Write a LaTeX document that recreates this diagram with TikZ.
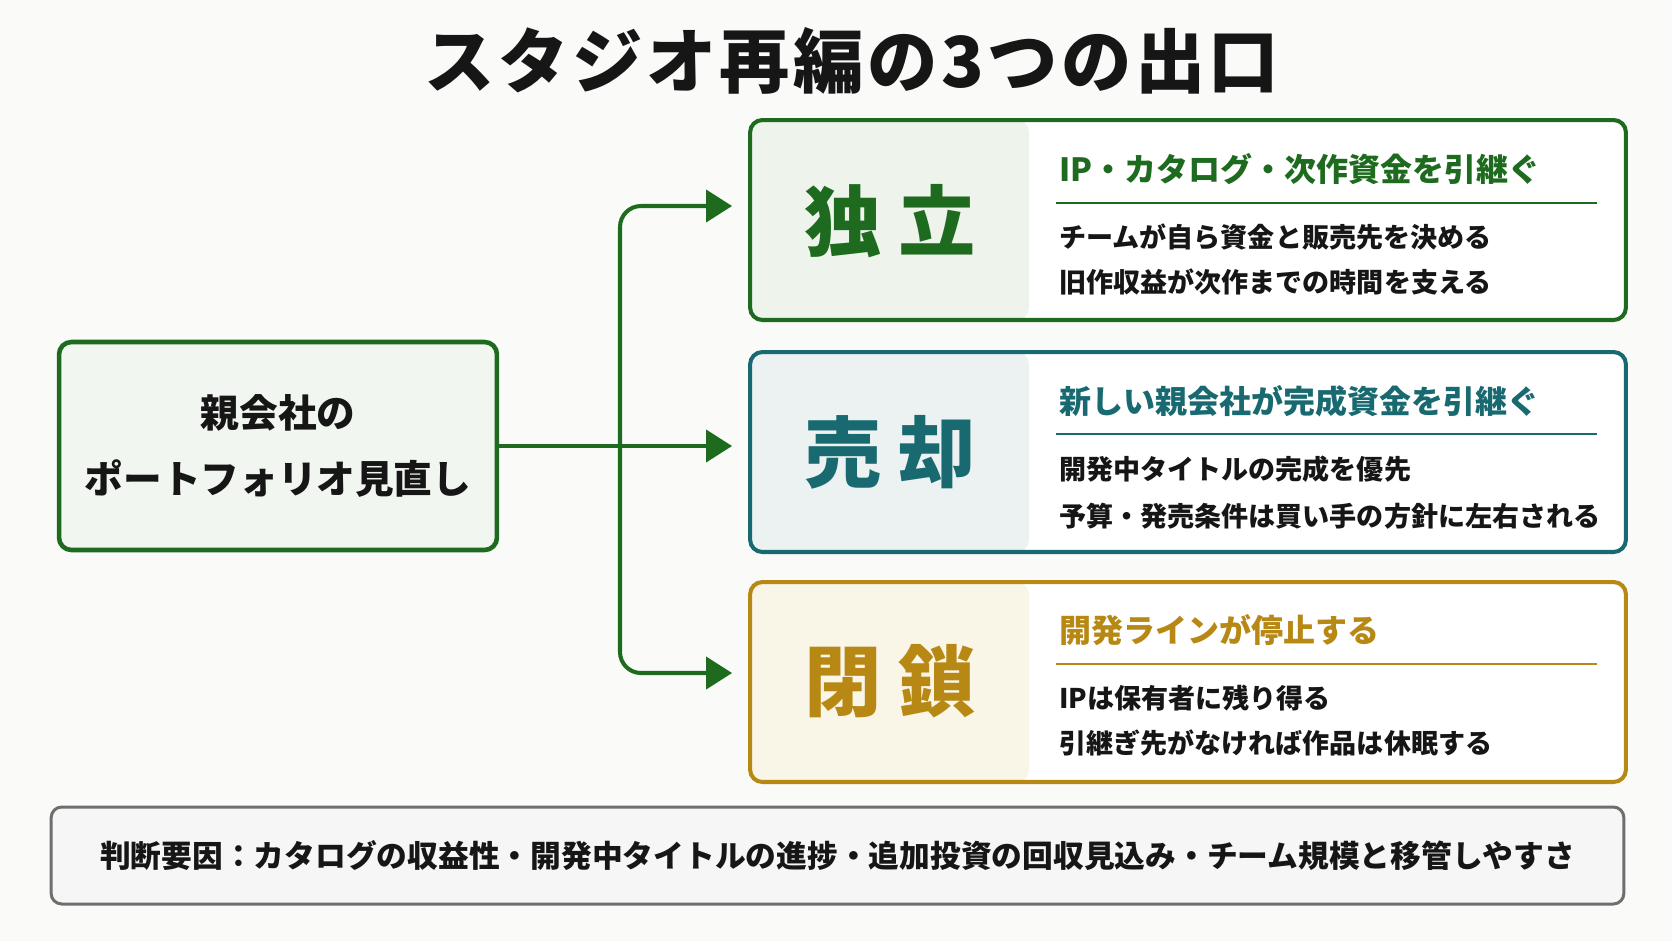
\documentclass[tikz,border=0pt]{standalone}
\usepackage{fontspec}
\setmainfont{Noto Sans CJK JP}
\usepackage{xcolor}
\usepackage{tikz}
\usetikzlibrary{arrows.meta,calc}
\definecolor{figbg}{RGB}{250,250,249}
\definecolor{figgreen}{RGB}{30,107,32}
\definecolor{figteal}{RGB}{24,106,112}
\definecolor{figgold}{RGB}{184,136,20}
\definecolor{figtext}{RGB}{22,22,22}
\definecolor{figgrey}{RGB}{110,110,110}
\definecolor{panelgreen}{RGB}{238,244,235}
\definecolor{panelteal}{RGB}{236,242,241}
\definecolor{panelgold}{RGB}{249,245,231}
\definecolor{parentfill}{RGB}{242,246,240}
\definecolor{notefill}{RGB}{246,246,246}
\tikzset{
  title/.style ={font=\fontsize{40}{40}\selectfont\bfseries\addfontfeature{LetterSpace=5}, text=figtext, inner sep=0pt},
  pbox/.style  ={draw=figgreen, line width=2.6pt, rounded corners=7pt, fill=parentfill,
                 minimum width=8.76cm, minimum height=4.16cm, align=center,
                 font=\fontsize{22}{37.6}\selectfont\bfseries, text=figtext},
  outbox/.style 2 args={draw=#1, line width=2.3pt, rounded corners=7pt, fill=white,
                 minimum width=17.52cm, minimum height=4cm, inner sep=0pt,
                 path picture={\fill[#2] (path picture bounding box.north west)
                   rectangle ([xshift=5.58cm]path picture bounding box.south west);}},
  bigl/.style  ={font=\fontsize{44}{44}\selectfont\bfseries, text=#1, inner sep=0pt},
  head/.style  ={font=\fontsize{18.2}{18.2}\selectfont\bfseries, text=#1, anchor=west, inner sep=0pt},
  body/.style  ={font=\fontsize{15.4}{15.4}\selectfont\bfseries, text=figtext, anchor=west, inner sep=0pt},
  rule/.style  ={draw=#1, line width=1.1pt},
  note/.style  ={draw=figgrey, line width=1.7pt, rounded corners=6pt, fill=notefill,
                 minimum width=31.46cm, minimum height=1.94cm,
                 font=\fontsize{17.5}{17.5}\selectfont\bfseries, text=figtext},
  arr/.style   ={draw=figgreen, line width=2.3pt, rounded corners=0.42cm,
                 -{Triangle[length=0.52cm,width=0.64cm]}, shorten >=0.32cm},
}

\begin{document}
\begin{tikzpicture}[x=0.02cm,y=-0.02cm]
  \fill[figbg] (0,0) rectangle (1672,941);
  \node[title] (title) at (852,61) {スタジオ再編の3つの出口};
  % parent company
  \node[pbox] (parent) at (278,446) {親会社の\\ポートフォリオ見直し};
  % three outcomes
  \node[outbox={figgreen}{panelgreen}] (indep) at (1188,220) {};
  \node[outbox={figteal}{panelteal}] (sale) at (1188,452) {};
  \node[outbox={figgold}{panelgold}] (close) at (1188,682) {};
  \node[bigl=figgreen] (indeplab) at (890,221) {独\kern0.22em 立};
  \node[bigl=figteal] (salelab) at (890,452) {売\kern0.22em 却};
  \node[bigl=figgold] (closelab) at (890,681) {閉\kern0.22em 鎖};
  \node[head=figgreen] (indephead) at (1059,169) {IP・カタログ・次作資金を引継ぐ};
  \draw[rule=figgreen] (1056,203) -- (1597,203);
  \node[body] (indepa) at (1059,237) {チームが自ら資金と販売先を決める};
  \node[body] (indepb) at (1059,282) {旧作収益が次作までの時間を支える};
  \node[head=figteal] (salehead) at (1059,401) {新しい親会社が完成資金を引継ぐ};
  \draw[rule=figteal] (1056,434) -- (1597,434);
  \node[body] (salea) at (1059,469) {開発中タイトルの完成を優先};
  \node[body] (saleb) at (1059,516) {予算・発売条件は買い手の方針に左右される};
  \node[head=figgold] (closehead) at (1059,630) {開発ラインが停止する};
  \draw[rule=figgold] (1056,664) -- (1597,664);
  \node[body] (closea) at (1059,698) {IPは保有者に残り得る};
  \node[body] (closeb) at (1059,743) {引継ぎ先がなければ作品は休眠する};
  % connectors
  \coordinate (trunk) at (620,446);
  \draw[arr] (parent.east) -- (parent.east -| sale.west);
  \draw[arr] (trunk) |- ([yshift=0.28cm]indep.west);
  \draw[arr] (trunk) |- ([yshift=0.18cm]close.west);
  % factors
  \node[note] (factors) at (837.5,855.5) {判断要因：カタログの収益性・開発中タイトルの進捗・追加投資の回収見込み・チーム規模と移管しやすさ};
\end{tikzpicture}
\end{document}
